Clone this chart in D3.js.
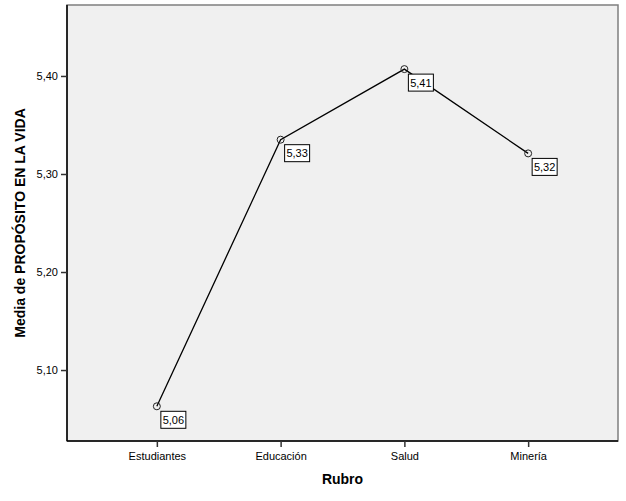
<!DOCTYPE html>
<html>
<head>
<meta charset="utf-8">
<script src="https://cdn.jsdelivr.net/npm/d3@7"></script>
<style>
  body { margin: 0; background: #fff; }
  text { font-family: "Liberation Sans", Arial, sans-serif; }
</style>
</head>
<body>
<script>
// Datos
const categories = ["Estudiantes", "Educación", "Salud", "Minería"];
const means = [5.063, 5.335, 5.407, 5.321];
const yTicks = [5.1, 5.2, 5.3, 5.4];

const width = 626, height = 501;
const margin = { top: 5, right: 8, bottom: 60, left: 67 };

const svg = d3.select("body").append("svg")
  .attr("width", width)
  .attr("height", height);

const x = d3.scalePoint()
  .domain(categories)
  .range([margin.left, width - margin.right])
  .padding(0.726);

const y = d3.scaleLinear()
  .domain([5.0276, 5.4724])
  .range([height - margin.bottom, margin.top]);

const fmt = (v) => d3.format(".2f")(v).replace(".", ",");

// Fondo del area de trazado
svg.append("rect")
  .attr("x", margin.left)
  .attr("y", margin.top)
  .attr("width", width - margin.right - margin.left)
  .attr("height", height - margin.bottom - margin.top)
  .attr("fill", "#f0f0f0")
  .attr("stroke", "#7f7f7f")
  .attr("stroke-width", 1.5);

// Ejes
const yAxis = svg.append("g")
  .attr("transform", `translate(${margin.left},0)`)
  .call(d3.axisLeft(y).tickValues(yTicks).tickSize(6).tickPadding(3).tickFormat(fmt));

const xAxis = svg.append("g")
  .attr("transform", `translate(0,${height - margin.bottom})`)
  .call(d3.axisBottom(x).tickSize(6).tickPadding(5));

[yAxis, xAxis].forEach((g) => {
  g.select(".domain").attr("stroke", "#000").attr("stroke-width", 1.5);
  g.selectAll(".tick line").attr("stroke", "#333").attr("stroke-width", 1.5);
  g.selectAll(".tick text").attr("fill", "#000").style("font-size", "11px")
    .style("font-family", "'Liberation Sans', Arial, sans-serif");
});
xAxis.select(".domain").attr("d", `M${margin.left},0H${width - margin.right}`);
yAxis.select(".domain").attr("d", `M0,${margin.top}V${height - margin.bottom}`);

// Titulos de ejes
svg.append("text")
  .attr("x", (margin.left + width - margin.right) / 2)
  .attr("y", 484)
  .attr("text-anchor", "middle")
  .style("font-size", "14px")
  .style("font-weight", "bold")
  .text("Rubro");

svg.append("text")
  .attr("transform", `translate(25,${(margin.top + height - margin.bottom) / 2}) rotate(-90)`)
  .attr("text-anchor", "middle")
  .style("font-size", "14px")
  .style("font-weight", "bold")
  .text("Media de PROPÓSITO EN LA VIDA");

// Linea
const line = d3.line()
  .x((d, i) => x(categories[i]))
  .y((d) => y(d));

svg.append("path")
  .datum(means)
  .attr("fill", "none")
  .attr("stroke", "#000")
  .attr("stroke-width", 1.3)
  .attr("d", line);

// Marcadores
svg.selectAll("circle.pt")
  .data(means)
  .enter()
  .append("circle")
  .attr("class", "pt")
  .attr("cx", (d, i) => x(categories[i]))
  .attr("cy", (d) => y(d))
  .attr("r", 3.5)
  .attr("fill", "none")
  .attr("stroke", "#222")
  .attr("stroke-width", 1);

// Etiquetas de valor
const labels = svg.selectAll("g.lbl")
  .data(means)
  .enter()
  .append("g")
  .attr("class", "lbl")
  .attr("transform", (d, i) => `translate(${x(categories[i]) + 4},${y(d) + 5})`);

labels.append("rect")
  .attr("width", 25)
  .attr("height", 17)
  .attr("fill", "#fff")
  .attr("stroke", "#000")
  .attr("stroke-width", 1);

labels.append("text")
  .attr("x", 12.5)
  .attr("y", 12.5)
  .attr("text-anchor", "middle")
  .style("font-size", "11px")
  .text((d) => fmt(d));
</script>
</body>
</html>
